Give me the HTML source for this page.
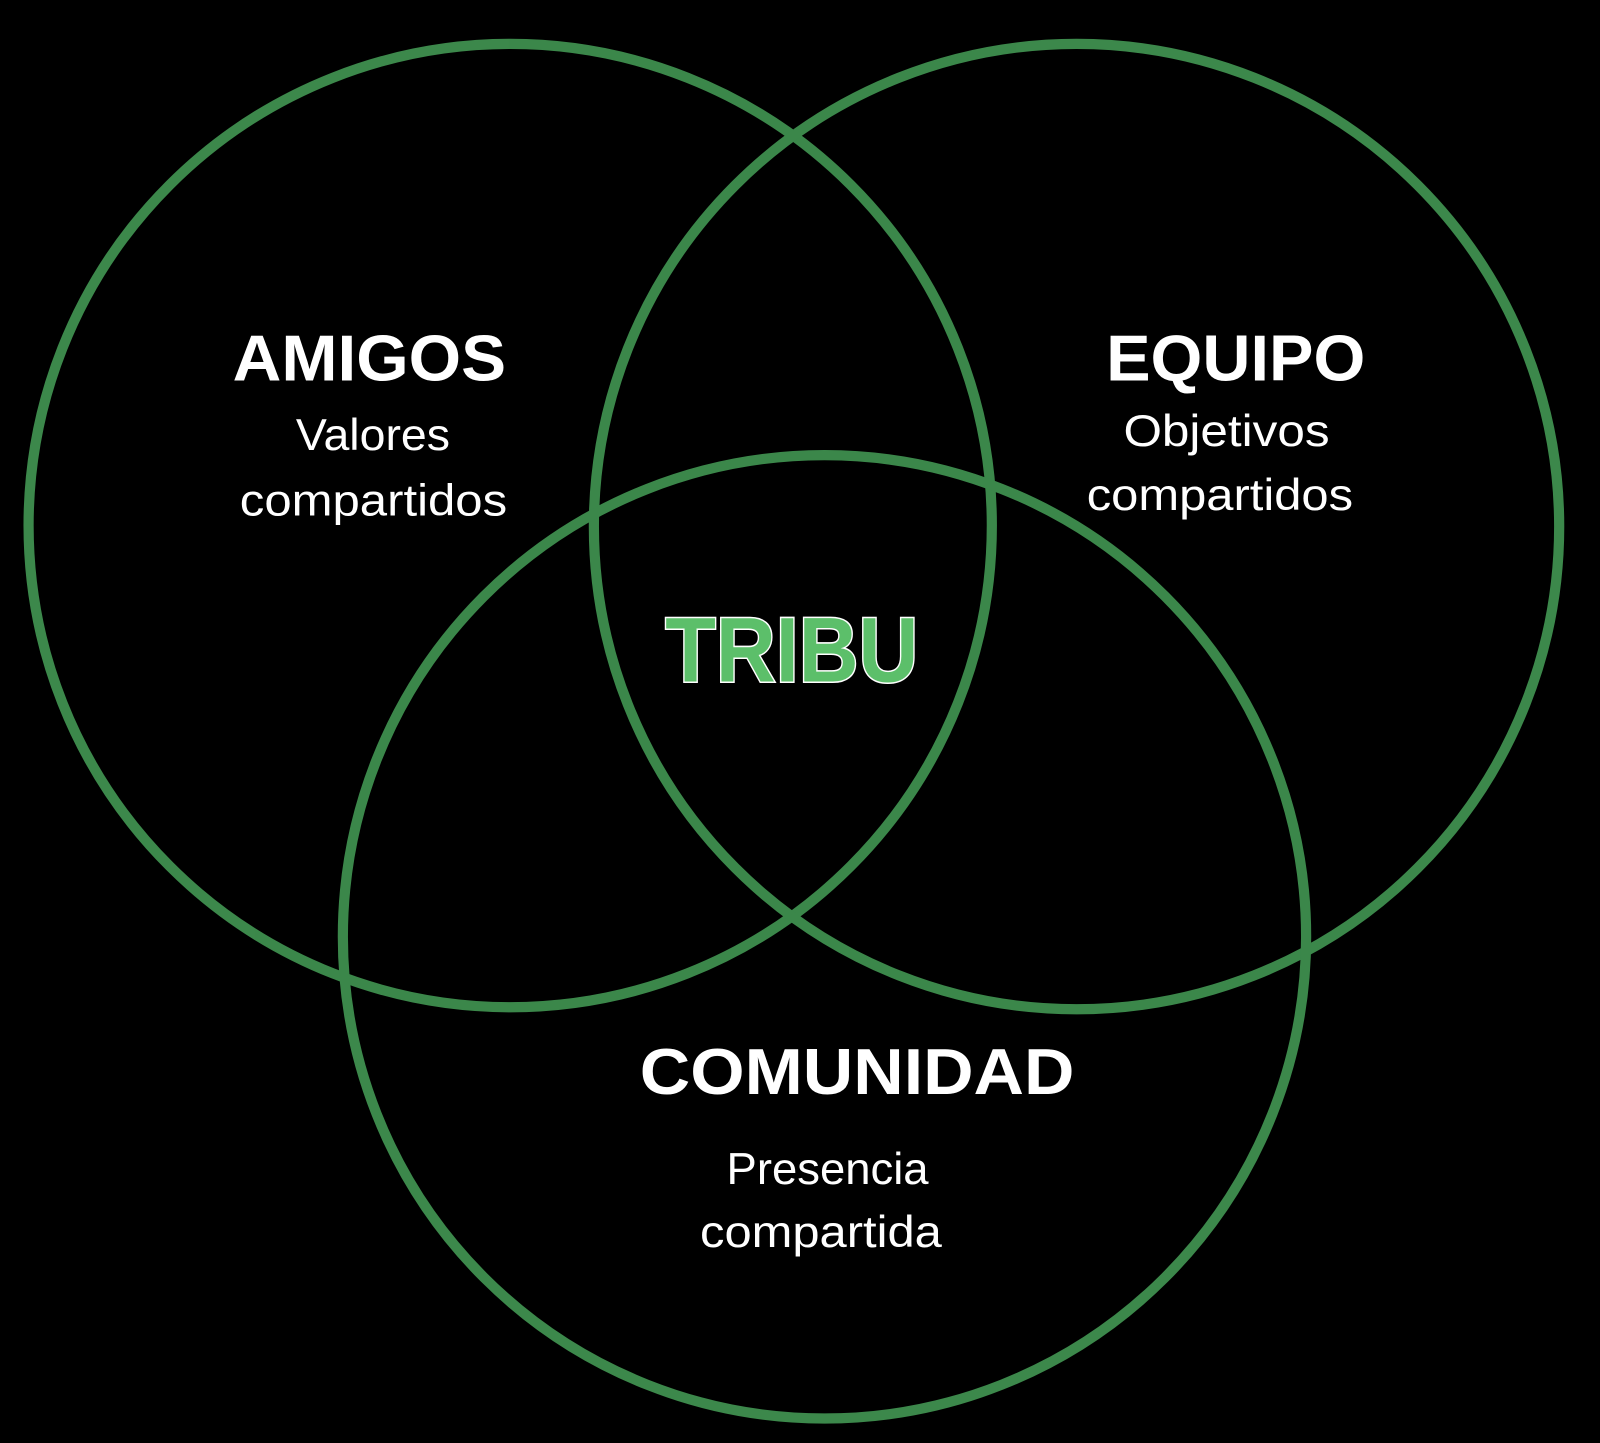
<!DOCTYPE html>
<html>
<head>
<meta charset="utf-8">
<style>
html,body{margin:0;padding:0;background:#000;}
svg{display:block;}
text{font-family:"Liberation Sans",sans-serif;fill:#fff;}
</style>
</head>
<body>
<svg width="1600" height="1443" viewBox="0 0 1568 1414" preserveAspectRatio="none" xmlns="http://www.w3.org/2000/svg">
<rect width="1568" height="1414" fill="#000"/>
<g fill="none" stroke="#3f8f4f" stroke-width="10" opacity="0.95">
<circle cx="500" cy="515" r="472"/>
<circle cx="1055" cy="516" r="473"/>
<circle cx="808" cy="918" r="472"/>
</g>
<text x="228" y="373" font-size="64" font-weight="bold" textLength="268" lengthAdjust="spacingAndGlyphs">AMIGOS</text>
<text x="290" y="441" font-size="44" textLength="151" lengthAdjust="spacingAndGlyphs">Valores</text>
<text x="235" y="505" font-size="44" textLength="262" lengthAdjust="spacingAndGlyphs">compartidos</text>
<text x="1084" y="373" font-size="64" font-weight="bold" textLength="254" lengthAdjust="spacingAndGlyphs">EQUIPO</text>
<text x="1101" y="437" font-size="44" textLength="202" lengthAdjust="spacingAndGlyphs">Objetivos</text>
<text x="1065" y="500" font-size="44" textLength="261" lengthAdjust="spacingAndGlyphs">compartidos</text>
<text x="652" y="668" font-size="90" font-weight="bold" textLength="248" lengthAdjust="spacingAndGlyphs" style="fill:#5cbf6a;stroke:#fff;stroke-width:3;paint-order:stroke">TRIBU</text>
<text x="627" y="1072" font-size="64" font-weight="bold" textLength="426" lengthAdjust="spacingAndGlyphs">COMUNIDAD</text>
<text x="712" y="1160" font-size="44" textLength="198" lengthAdjust="spacingAndGlyphs">Presencia</text>
<text x="686" y="1222" font-size="44" textLength="237" lengthAdjust="spacingAndGlyphs">compartida</text>
</svg>
</body>
</html>
